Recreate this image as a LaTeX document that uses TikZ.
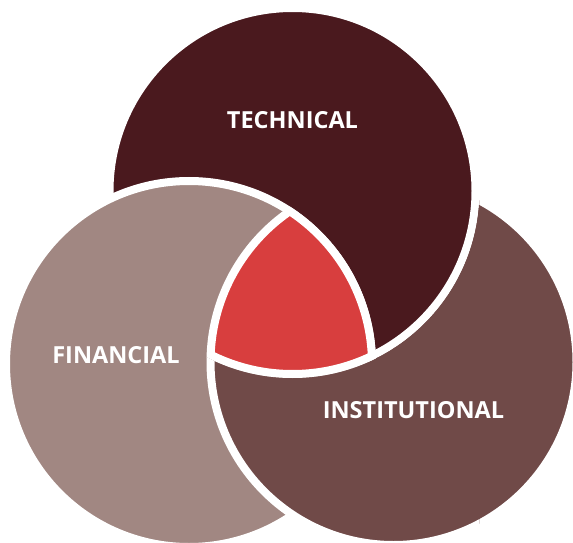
\documentclass[tikz,border=0pt]{standalone}
\usepackage{fontspec}
\newfontfamily\labelfont{Open Sans}
\usetikzlibrary{calc}
\definecolor{techcol}{HTML}{4A191E}
\definecolor{fincol}{HTML}{A18782}
\definecolor{instcol}{HTML}{704A48}
\definecolor{corecol}{HTML}{D83E3E}
\begin{document}
\begin{tikzpicture}[x=1pt, y=1pt,
    ring/.style = {draw=white, line width=8pt},
    lbl/.style = {text=white, font=\labelfont\bfseries\fontsize{23.5}{25}\selectfont}]
  \useasboundingbox (0,0) rectangle (573,542);
  \coordinate (tech) at (292.5,351);
  \coordinate (fin) at (189,178);
  \coordinate (inst) at (393.5,180);
  \filldraw[ring, fill=instcol] (inst) circle (183pt);
  \filldraw[ring, fill=techcol] (tech) circle (183pt);
  \filldraw[ring, fill=fincol] (fin) circle (183pt);
  % institutional again, over financial but under technical
  \begin{scope}
    \clip ($(tech)+(-187,0)$) arc[start angle=180, end angle=360, radius=187pt]
      -- ++(0,-500) -- ++(-374,0) -- cycle;
    \filldraw[ring, fill=instcol] (inst) circle (183pt);
  \end{scope}
  % core where all three meet
  \begin{scope}
    \clip (fin) circle (183pt);
    \clip (inst) circle (183pt);
    \fill[corecol] (tech) circle (183pt);
  \end{scope}
  \begin{scope}
    \clip (fin) circle (187pt);
    \clip (inst) circle (187pt);
    \clip (tech) circle (187pt);
    \draw[ring] (fin) circle (183pt) (inst) circle (183pt) (tech) circle (183pt);
  \end{scope}
  \node[lbl] (techlbl) at (292.5,421.5) {TECHNICAL};
  \node[lbl] (finlbl) at (116,186.5) {FINANCIAL};
  \node[lbl] (instlbl) at (413.5,131.5) {INSTITUTIONAL};
\end{tikzpicture}
\end{document}
